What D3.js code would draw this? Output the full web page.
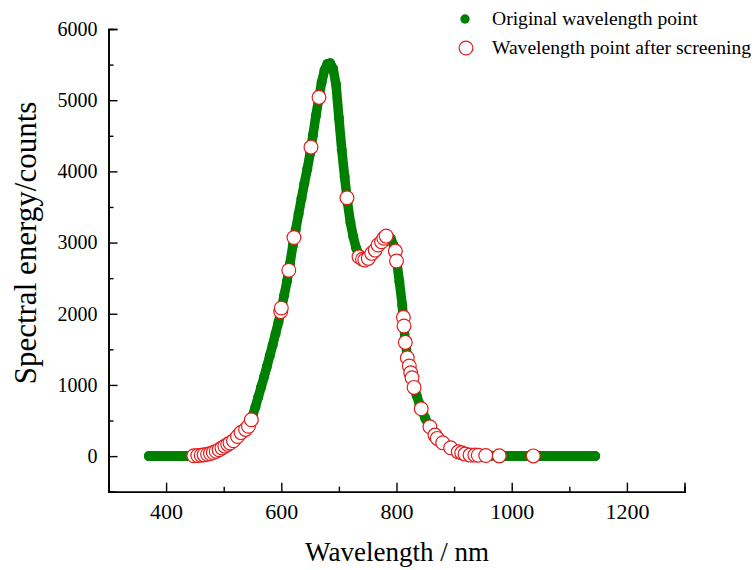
<!DOCTYPE html>
<html>
<head>
<meta charset="utf-8">
<script src="https://cdn.jsdelivr.net/npm/d3@7"></script>
<style>
  html, body { margin: 0; padding: 0; background: #fff; }
  svg text { font-family: "Liberation Serif", "Times New Roman", serif; fill: #000; }
</style>
</head>
<body>
<svg id="chart" width="756" height="570"></svg>
<script>
// ---- data ----
const origWavelength = [370,375,380,385,390,395,400,405,410,415,420,425,430,435,440,445,450,455,460,465,470,475,480,485,490,495,500,505,510,515,520,525,530,535,540,545,550,555,560,565,570,575,580,585,590,595,600,605,610,615,620,625,630,635,640,645,650,655,660,665,670,675,680,685,690,695,700,705,710,715,720,725,730,735,740,745,750,755,760,765,770,775,780,785,790,795,800,805,810,815,820,825,830,835,840,845,850,855,860,865,870,875,880,885,890,895,900,905,910,915,920,925,930,935,940,945,950,955,960,965,970,975,980,985,990,995,1000,1005,1010,1015,1020,1025,1030,1035,1040,1045,1050,1055,1060,1065,1070,1075,1080,1085,1090,1095,1100,1105,1110,1115,1120,1125,1130,1135,1140,1145];
const origEnergy = [0,0,0,0,0,0,0,0,0,0,0,1,1,2,3,4,6,8,12,17,24,33,45,60,80,105,130,155,180,200,235,285,330,360,385,450,560,690,830,970,1110,1260,1410,1560,1720,1880,2060,2260,2460,2700,2960,3180,3400,3620,3830,4030,4250,4510,4780,5020,5250,5420,5510,5520,5440,5220,4750,4300,3920,3560,3280,3080,2920,2820,2780,2770,2790,2830,2880,2940,2990,3040,3080,3100,3060,2960,2760,2450,2120,1630,1330,1160,990,850,730,630,530,450,370,300,255,215,185,160,130,105,85,66,50,38,28,20,15,12,10,8,7,6,5,4,4,3,3,2,2,2,1,1,1,1,1,1,0,0,0,0,0,0,0,0,0,0,0,0,0,0,0,0,0,0,0,0,0,0,0,0,0,0,0,0,0,0,0];

const screenWavelength = [448,455,461,466,472,477,482,487,492,497,502,507,511,517,524,530,538,543,548,599,600,613,622,651.5,665.5,714,735,741,745,751,757,763,768,774,778,782,798,800,812,813,815.3,818.8,822.2,824.7,827,830.5,843,858,866.8,870.8,880.2,894,907.3,913.2,919,927.6,936,942,955,978.5,1037.5];
const screenEnergy = [5,8,13,18,27,37,51,68,90,115,140,165,185,215,275,330,375,420,510,2030,2080,2610,3070,4340,5040,3630,2800,2765,2754,2778,2848,2894,2965,3012,3060,3091,2880,2740,1949,1827,1598,1381,1265,1170,1100,965,665,412,295,249,187,117,60,46,28,14,14,12,8,4,3];

const xMajorTicks = [400,600,800,1000,1200];
const xMinorTicks = [300,500,700,900,1100,1300];
const yMajorTicks = [0,1000,2000,3000,4000,5000,6000];
const yMinorTicks = [-500,500,1500,2500,3500,4500,5500];

const legendLabels = ["Original wavelength point", "Wavelength point after screening"];
const xTitle = "Wavelength / nm";
const yTitle = "Spectral energy/counts";

// ---- layout ----
const svg = d3.select("#chart");
const x = d3.scaleLinear().domain([300, 1300]).range([108.5, 684.5]);
const y = d3.scaleLinear().domain([-500, 6000]).range([491.7, 29]);

const green = "#008000";
const red = "#e31a1c";

// original points: band line + dots
const origData = origWavelength.map((w, i) => ({w, v: origEnergy[i]}));
svg.append("path")
  .datum(origData)
  .attr("d", d3.line().x(d => x(d.w)).y(d => y(d.v)))
  .attr("fill", "none")
  .attr("stroke", green)
  .attr("stroke-width", 9.5)
  .attr("stroke-linejoin", "round")
  .attr("stroke-linecap", "round");
svg.append("g").selectAll("circle").data(origData).join("circle")
  .attr("cx", d => x(d.w)).attr("cy", d => y(d.v)).attr("r", 5)
  .attr("fill", green);

// screened points
const scrData = screenWavelength.map((w, i) => ({w, v: screenEnergy[i]}));
svg.append("g").selectAll("circle").data(scrData).join("circle")
  .attr("cx", d => x(d.w)).attr("cy", d => y(d.v)).attr("r", 6.9)
  .attr("fill", "#fff").attr("stroke", red).attr("stroke-width", 1.2);

// axes
const xAxis = svg.append("g").attr("transform", "translate(0,491.7)");
xAxis.call(d3.axisBottom(x).tickValues(xMajorTicks).tickSize(-9).tickPadding(12).tickFormat(d3.format("d")));
xAxis.append("g").call(d3.axisBottom(x).tickValues(xMinorTicks).tickSize(-5).tickFormat(""));
xAxis.selectAll(".domain").attr("stroke", "#000").attr("stroke-width", 1.6);
xAxis.selectAll(".tick line").attr("stroke", "#000").attr("stroke-width", 1.4);
xAxis.selectAll(".tick text").attr("font-size", "22px").attr("dy", "0.71em");

const yAxis = svg.append("g").attr("transform", "translate(108.5,0)");
yAxis.call(d3.axisLeft(y).tickValues(yMajorTicks).tickSize(-9).tickPadding(11).tickFormat(d3.format("d")));
yAxis.append("g").call(d3.axisLeft(y).tickValues(yMinorTicks).tickSize(-5).tickFormat(""));
yAxis.selectAll(".domain").attr("stroke", "#000").attr("stroke-width", 1.6);
yAxis.selectAll(".tick line").attr("stroke", "#000").attr("stroke-width", 1.4);
yAxis.selectAll(".tick text").attr("font-size", "20px");

// titles
svg.append("text").attr("x", 397).attr("y", 561).attr("text-anchor", "middle")
  .attr("font-size", "27px").text(xTitle);
svg.append("text").attr("transform", "translate(36,243) rotate(-90)").attr("text-anchor", "middle")
  .attr("font-size", "31px").text(yTitle);

// legend
const lg = svg.append("g");
lg.append("circle").attr("cx", 465).attr("cy", 19).attr("r", 4.7).attr("fill", green);
lg.append("circle").attr("cx", 466).attr("cy", 48).attr("r", 6.9).attr("fill", "#fff").attr("stroke", red).attr("stroke-width", 1.2);
lg.selectAll("text.leg").data(legendLabels).join("text")
  .attr("class", "leg")
  .attr("x", 492).attr("y", (d, i) => 25 + i * 29)
  .attr("font-size", "19.6px").text(d => d);
</script>
</body>
</html>
